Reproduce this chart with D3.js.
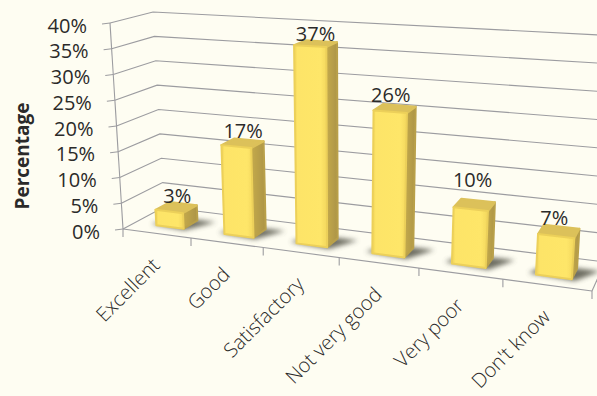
<!DOCTYPE html>
<html><head><meta charset="utf-8">
<script src="https://cdn.jsdelivr.net/npm/d3@7"></script>
<style>html,body{margin:0;padding:0;background:#fefdf2}svg{display:block}text{font-family:"Open Sans",sans-serif;fill:#2b2a29}</style>
</head><body><div id="c"></div>
<script>
const categories = ["Excellent","Good","Satisfactory","Not very good","Very poor","Don't know"];
const values = [3,17,37,26,10,7];
const yTicks = [0,5,10,15,20,25,30,35,40];
const W=597,H=396;
// projected corners of the 3D box: [depth][value]
const FBL=[123,229],FTL=[110,23],BBL=[164,207],BTL=[153,12];
const FBR=[592,291],FTR=[608,51],BBR=[605,262],BTR=[619,36];
// perspective along the category axis (fraction of the front edge at each category boundary)
const persp=d3.scaleLinear().domain([0,1,2,3,4,5,6]).range([0,.145,.299,.461,.631,.81,1]);
const yS=d3.scaleLinear().domain([0,40]).range([0,1]);
const mix=(a,b,t)=>[a[0]+(b[0]-a[0])*t,a[1]+(b[1]-a[1])*t];
function P(c,v,w){
  const u=persp(c),t=yS(v);
  const fb=mix(FBL,FBR,u),ft=mix(FTL,FTR,u),bb=mix(BBL,BBR,u),bt=mix(BTL,BTR,u);
  return mix(mix(fb,ft,t),mix(bb,bt,t),w);
}
const svg=d3.select("#c").append("svg").attr("width",W).attr("height",H);
svg.append("rect").attr("width",W).attr("height",H).attr("fill","#fefdf2");
const defs=svg.append("defs");
defs.append("filter").attr("id","soft").append("feGaussianBlur").attr("stdDeviation",.5);
defs.append("filter").attr("id","shadow").attr("x","-50%").attr("y","-50%").attr("width","200%").attr("height","200%").append("feGaussianBlur").attr("stdDeviation",2.6);
const gf=defs.append("linearGradient").attr("id","front");
[[0,"#f0d257"],[.1,"#fde467"],[.8,"#fee669"],[1,"#f3d75e"]].forEach(s=>gf.append("stop").attr("offset",s[0]).attr("stop-color",s[1]));
const gs=defs.append("linearGradient").attr("id","side");
[[0,"#c4aa4c"],[1,"#ac9446"]].forEach(s=>gs.append("stop").attr("offset",s[0]).attr("stop-color",s[1]));
const line=d3.line(), gridC="#9c9ca0";
const seg=(pts,w=1.1)=>svg.append("path").attr("d",line(pts)).attr("fill","none").attr("stroke",gridC).attr("stroke-width",w);
// walls
yTicks.forEach(v=>{
  seg([P(0,v,0),P(0,v,1),P(6,v,1)]);
  const p=P(0,v,0);
  seg([[p[0]-8,p[1]+1],p]);
  svg.append("text").attr("x",p[0]-23).attr("y",p[1]+9.5).attr("text-anchor","end")
    .attr("font-size",20).text(v+"%");
});
seg([P(0,0,0),P(0,40,0)]);
seg([P(0,0,0),P(6,0,0)]);
seg([P(6,0,0),P(6,0,1)]);
// x ticks
d3.range(0,7).forEach(i=>{const p=P(i,0,0);seg([p,[p[0],p[1]+8]]);});
// bars
const bw=.205,w0=.3,w1=.66;
const labelLift=[0,2,0,3,13,2], labelShift=[0,0,0,-3,0,-2];
const g=svg.append("g");
values.forEach((v,i)=>{
  const a=i+.5-bw+.02,b=i+.5+bw+.02;
  g.append("path").attr("d",line([P(a-.09,0,w0+.02),P(b+.04,0,w0-.05),P(b+.27,0,w1+.02),P(a+.05,0,w1+.02)])+"Z")
   .attr("fill","#55554a").attr("opacity",.85).attr("filter","url(#shadow)");
});
values.forEach((v,i)=>{
  const a=i+.5-bw+.02,b=i+.5+bw+.02;
  const bar=g.append("g").attr("filter","url(#soft)");
  const poly=(pts,fill,stroke)=>bar.append("path").attr("d",line(pts)+"Z").attr("fill",fill)
    .attr("stroke",stroke).attr("stroke-width",2).attr("stroke-linejoin","round");
  poly([P(b,0,w0),P(b,0,w1),P(b,v,w1),P(b,v,w0)],"url(#side)","#b9a04a");
  poly([P(a,v,w0),P(b,v,w0),P(b,v,w1),P(a,v,w1)],"#dcc15a","#dcc15a");
  poly([P(a,0,w0),P(b,0,w0),P(b,v,w0),P(a,v,w0)],"url(#front)","#ecd05a");
});
values.forEach((v,i)=>{
  const t=P(i+.5+.05,v,w1);
  svg.append("text").attr("x",t[0]-8+labelShift[i]).attr("y",t[1]-.5-labelLift[i]).attr("text-anchor","middle").attr("font-size",20).text(v+"%");
});
// category labels
categories.forEach((c,i)=>{
  const p=P(i+.5,0,0);
  svg.append("text").attr("transform",`translate(${p[0]+4},${p[1]+33}) rotate(-45)`).attr("text-anchor","end")
    .attr("font-size",20).attr("font-weight",300).text(c);
});
svg.append("text").attr("transform","translate(29,156) rotate(-90)").attr("text-anchor","middle")
  .attr("font-size",19).attr("font-weight",700).text("Percentage");
</script></body></html>
